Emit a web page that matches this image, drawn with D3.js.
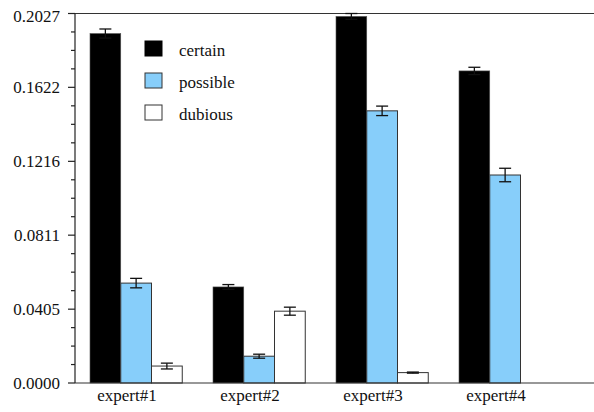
<!DOCTYPE html>
<html>
<head>
<meta charset="utf-8">
<script src="https://cdn.jsdelivr.net/npm/d3@7"></script>
</head>
<body style="margin:0">
<svg id="chart" width="594" height="412" style="display:block"></svg>
<script>
// Categories and series
const experts = ["expert#1", "expert#2", "expert#3", "expert#4"];
const seriesNames = ["certain", "possible", "dubious"];
const seriesColors = ["#000000", "#87cefa", "#ffffff"];
const certain  = [0.1917, 0.0527, 0.2011, 0.1712];
const possible = [0.0548, 0.0147, 0.1493, 0.1141];
const dubious  = [0.0093, 0.0394, 0.0057, 0.0000];
const certainErr  = [0.0025, 0.0013, 0.0016, 0.0020];
const possibleErr = [0.0026, 0.0011, 0.0026, 0.0037];
const dubiousErr  = [0.0016, 0.0022, 0.0003, 0.0000];
const yTickLabels = ["0.0000", "0.0405", "0.0811", "0.1216", "0.1622", "0.2027"];
const yMax = 0.2027;

const values = [certain, possible, dubious];
const errors = [certainErr, possibleErr, dubiousErr];

const FONT = '"Liberation Serif", "Times New Roman", monospace';
const FONT_SIZE = 17;
const svg = d3.select("#chart");
const axisLeft = 75, axisRight = 594, yTop = 13.5, yBottom = 383;

const y = d3.scaleLinear().domain([0, yMax]).range([yBottom, yTop]);
const x0 = d3.scaleBand().domain(experts).range([90, 551.25]).paddingInner(0.25).paddingOuter(0);
const x1 = d3.scaleBand().domain(seriesNames).range([0, x0.bandwidth()]);

function label(sel) {
  return sel.style("font-family", FONT).attr("font-size", FONT_SIZE).attr("fill", "#111");
}

// Top rule
svg.append("line").attr("x1", axisLeft).attr("x2", axisRight)
  .attr("y1", yTop).attr("y2", yTop).attr("stroke", "#333").attr("stroke-width", 1.2);

// Bars
const groups = svg.selectAll("g.group").data(experts).join("g")
  .attr("class", "group")
  .attr("transform", d => `translate(${x0(d)},0)`);

groups.each(function(cat, ci) {
  const g = d3.select(this);
  seriesNames.forEach((s, si) => {
    const v = values[si][ci];
    if (v <= 0) return;
    g.append("rect")
      .attr("x", x1(s))
      .attr("y", y(v))
      .attr("width", x1.bandwidth())
      .attr("height", y(0) - y(v))
      .attr("fill", seriesColors[si])
      .attr("stroke", si === 0 ? "#555" : "#333")
      .attr("stroke-width", si === 0 ? 0.6 : 1);
  });
});

// Error bars
groups.each(function(cat, ci) {
  const g = d3.select(this);
  seriesNames.forEach((s, si) => {
    const v = values[si][ci], e = errors[si][ci];
    if (v <= 0) return;
    const cx = x1(s) + x1.bandwidth() / 2;
    const capW = 6;
    const eb = g.append("g").attr("stroke", "#111").attr("stroke-width", 1.3);
    eb.append("line").attr("x1", cx).attr("x2", cx).attr("y1", y(v + e)).attr("y2", y(v - e));
    eb.append("line").attr("x1", cx - capW).attr("x2", cx + capW).attr("y1", y(v + e)).attr("y2", y(v + e));
    eb.append("line").attr("x1", cx - capW).attr("x2", cx + capW).attr("y1", y(v - e)).attr("y2", y(v - e));
  });
});

// Baseline
svg.append("line").attr("x1", axisLeft).attr("x2", axisRight)
  .attr("y1", yBottom).attr("y2", yBottom).attr("stroke", "#333").attr("stroke-width", 1.2);

// Y axis with major and minor ticks
const majorVals = yTickLabels.map(Number);
const yAxis = svg.append("g").attr("transform", `translate(${axisLeft},0)`);
yAxis.append("line").attr("x1", 0).attr("x2", 0).attr("y1", yTop).attr("y2", yBottom)
  .attr("stroke", "#222").attr("stroke-width", 1.2);
const minorVals = [];
for (let i = 0; i < majorVals.length - 1; i++) {
  for (let k = 1; k < 4; k++) minorVals.push(majorVals[i] + (majorVals[i + 1] - majorVals[i]) * k / 4);
}
yAxis.selectAll("line.minor").data(minorVals).join("line")
  .attr("class", "minor")
  .attr("x1", -4).attr("x2", 0)
  .attr("y1", d => y(d)).attr("y2", d => y(d))
  .attr("stroke", "#222").attr("stroke-width", 1.2);
yAxis.selectAll("line.major").data(majorVals).join("line")
  .attr("class", "major")
  .attr("x1", -7).attr("x2", 0)
  .attr("y1", d => y(d)).attr("y2", d => y(d))
  .attr("stroke", "#222").attr("stroke-width", 1.2);
yAxis.selectAll("text").data(yTickLabels).join("text")
  .attr("x", -15)
  .attr("y", (d, i) => y(majorVals[i]) + (i === yTickLabels.length - 1 ? 8 : 6))
  .attr("text-anchor", "end")
  .call(label)
  .text(d => d);

// Category labels
svg.selectAll("text.cat").data(experts).join("text")
  .attr("class", "cat")
  .attr("x", d => x0(d) + x0.bandwidth() * 0.4)
  .attr("y", 401)
  .attr("text-anchor", "middle")
  .call(label)
  .text(d => d);

// Legend
const legend = svg.append("g").attr("transform", "translate(145,41)");
const items = legend.selectAll("g").data(seriesNames).join("g")
  .attr("transform", (d, i) => `translate(0,${i * 32})`);
items.append("rect").attr("width", 17).attr("height", 15)
  .attr("fill", (d, i) => seriesColors[i])
  .attr("stroke", (d, i) => i === 0 ? "#000" : "#333").attr("stroke-width", 1);
items.append("text").attr("x", 34).attr("y", 15)
  .call(label)
  .text(d => d);
</script>
</body>
</html>
